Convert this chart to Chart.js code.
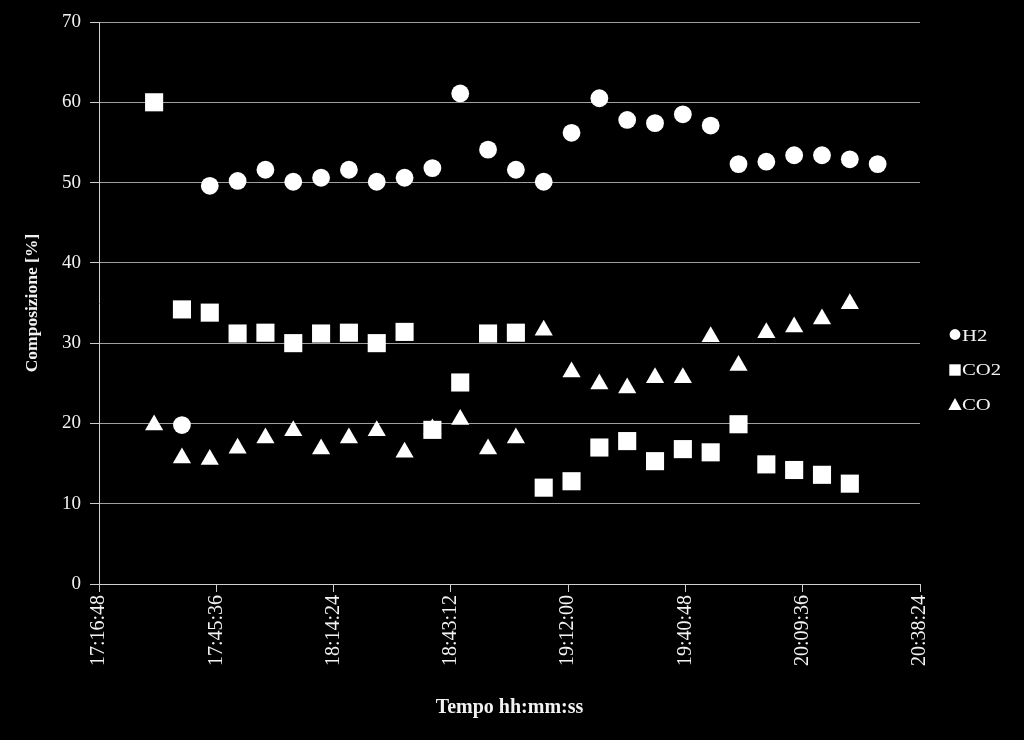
<!DOCTYPE html>
<html>
<head>
<meta charset="utf-8">
<script src="https://cdn.jsdelivr.net/npm/chart.js@4.4.1/dist/chart.umd.min.js"></script>
<style>
    html, body { margin: 0; padding: 0; background: #000; }
    #wrap { width: 1024px; height: 740px; }
</style>
</head>
<body>
<div id="wrap"><canvas id="myChart" width="1024" height="740"></canvas></div>
<script>
// sample times (hh:mm:ss)
const times = [
    '17:30:20', '17:37:10', '17:44:00', '17:50:50', '17:57:40', '18:04:30', '18:11:20',
    '18:18:10', '18:25:00', '18:31:50', '18:38:40', '18:45:30', '18:52:20', '18:59:10',
    '19:06:00', '19:12:50', '19:19:40', '19:26:30', '19:33:20', '19:40:10', '19:47:00',
    '19:53:50', '20:00:40', '20:07:30', '20:14:20', '20:21:10', '20:28:00'
];

// composition [%]
const h2Values = [
    null, 19.8, 49.6, 50.2, 51.6, 50.1, 50.6, 51.6, 50.1, 50.6, 51.8, 61.1, 54.1, 51.6,
    50.1, 56.2, 60.5, 57.8, 57.4, 58.5, 57.1, 52.3, 52.6, 53.4, 53.4, 52.9, 52.3
];
const co2Values = [
    60.0, 34.2, 33.8, 31.2, 31.3, 30.0, 31.2, 31.3, 30.0, 31.4, 19.2, 25.1, 31.2, 31.3,
    12.0, 12.8, 17.0, 17.8, 15.3, 16.8, 16.4, 19.9, 14.9, 14.2, 13.6, 12.5, null
];
const coValues = [
    19.8, 15.7, 15.5, 16.9, 18.2, 19.1, 16.8, 18.2, 19.1, 16.4, 19.3, 20.5, 16.8, 18.2,
    31.6, 26.4, 24.9, 24.4, 25.7, 25.7, 30.8, 27.2, 31.3, 32.0, 33.0, 34.9, null
];

const seriesNames = ['H2', 'CO2', 'CO'];
const yTicks = [0, 10, 20, 30, 40, 50, 60, 70];
const xMin = '17:16:48';
const xMax = '20:38:24';
const xStep = 1728; // 28:48

const serif = '"Liberation Serif", "Times New Roman", serif';
const textColor = '#f2f2f2';
const gridColor = '#a0a0a0';
const axisColor = '#cfcfcf';

function toSeconds(t) {
    const [h, m, s] = t.split(':').map(Number);
    return h * 3600 + m * 60 + s;
}

function toClock(sec) {
    const h = Math.floor(sec / 3600);
    const m = Math.floor((sec % 3600) / 60);
    const s = Math.round(sec % 60);
    return h + ':' + String(m).padStart(2, '0') + ':' + String(s).padStart(2, '0');
}

function buildPoints(values) {
    return times.map((t, i) => ({ x: toSeconds(t), y: values[i] }));
}

// legend on the right, centred on the whole canvas like the original
const sideLegend = {
    id: 'sideLegend',
    afterDraw(chart) {
        const ctx = chart.ctx;
        const x = chart.chartArea.right + 35;
        const mid = chart.height / 2;
        ctx.save();
        ctx.font = '17px ' + serif;
        ctx.textBaseline = 'middle';
        chart.data.datasets.forEach((ds, i) => {
            const y = mid + (i - 1) * 34.5;
            ctx.fillStyle = '#fff';
            ctx.beginPath();
            if (ds.pointStyle === 'circle') {
                ctx.arc(x, y - 1, 5.4, 0, Math.PI * 2);
            } else if (ds.pointStyle === 'rect') {
                ctx.rect(x - 5.7, y - 5.7, 11.4, 11.4);
            } else {
                ctx.moveTo(x, y - 6.5);
                ctx.lineTo(x + 6.7, y + 5.5);
                ctx.lineTo(x - 6.7, y + 5.5);
                ctx.closePath();
            }
            ctx.fill();
            // original legend text is a little wider than plain Times
            ctx.save();
            ctx.translate(x + 7, y + 1);
            ctx.scale(1.22, 1);
            ctx.fillStyle = textColor;
            ctx.fillText(ds.label, 0, 0);
            ctx.restore();
        });
        ctx.restore();
    }
};

document.addEventListener('DOMContentLoaded', () => {
    const ctx = document.getElementById('myChart').getContext('2d');

    new Chart(ctx, {
        type: 'scatter',
        data: {
            datasets: [
                { label: seriesNames[0], data: buildPoints(h2Values), pointStyle: 'circle', pointRadius: 8.9 },
                { label: seriesNames[1], data: buildPoints(co2Values), pointStyle: 'rect', pointRadius: 12.8 },
                { label: seriesNames[2], data: buildPoints(coValues), pointStyle: 'triangle', pointRadius: 10.5 }
            ].map(ds => Object.assign(ds, {
                backgroundColor: '#fff',
                borderColor: '#fff',
                borderWidth: 0,
                pointHoverRadius: ds.pointRadius,
                showLine: false
            }))
        },
        options: {
            responsive: false,
            animation: false,
            layout: { padding: { left: 13, right: 104, top: 22, bottom: 20 } },
            plugins: {
                legend: { display: false },
                tooltip: { enabled: false }
            },
            scales: {
                x: {
                    type: 'linear',
                    min: toSeconds(xMin),
                    max: toSeconds(xMax),
                    afterBuildTicks: (scale) => {
                        const ticks = [];
                        for (let v = scale.min; v <= scale.max; v += xStep) ticks.push({ value: v });
                        scale.ticks = ticks;
                    },
                    afterFit: (scale) => { scale.height = 136; },
                    ticks: {
                        color: textColor,
                        font: { family: serif, size: 20 },
                        minRotation: 90,
                        maxRotation: 90,
                        padding: 3,
                        callback: (v) => toClock(v)
                    },
                    grid: { drawOnChartArea: false, color: axisColor, tickLength: 8 },
                    border: { color: axisColor, width: 1 },
                    title: {
                        display: true,
                        text: 'Tempo hh:mm:ss',
                        color: textColor,
                        font: { family: serif, size: 20, weight: 'bold' },
                        padding: { top: 10, bottom: 0 }
                    }
                },
                y: {
                    min: 0,
                    max: 70,
                    afterBuildTicks: (scale) => {
                        scale.ticks = yTicks.map(v => ({ value: v }));
                    },
                    afterFit: (scale) => { scale.width = 86; },
                    ticks: {
                        color: textColor,
                        font: { family: serif, size: 19 },
                        padding: 9
                    },
                    grid: {
                        color: gridColor,
                        tickColor: axisColor,
                        tickLength: 9
                    },
                    border: { color: axisColor, width: 1 },
                    title: {
                        display: true,
                        text: 'Composizione [%]',
                        color: textColor,
                        font: { family: serif, size: 17.5, weight: 'bold' },
                        padding: { top: 9, bottom: 0 }
                    }
                }
            }
        },
        plugins: [sideLegend]
    });
});
</script>
</body>
</html>
